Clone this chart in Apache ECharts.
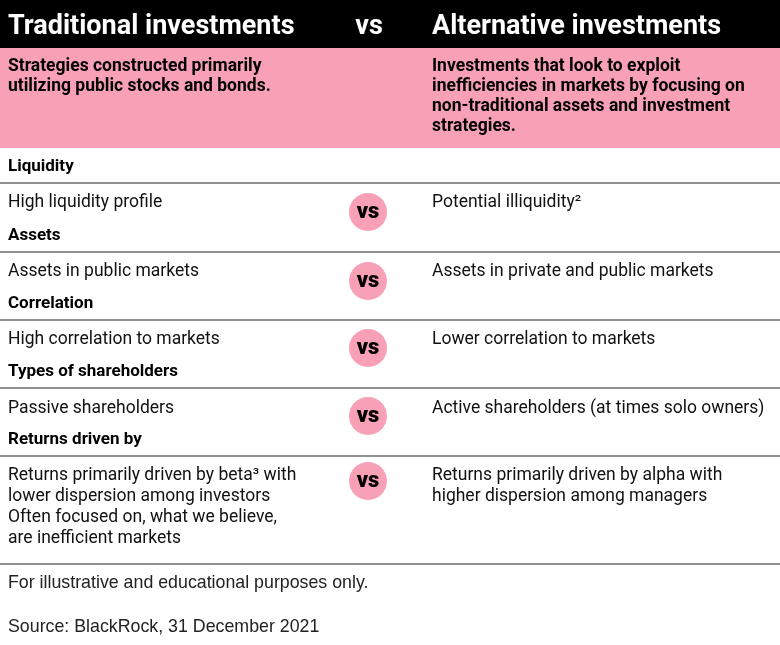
<!DOCTYPE html>
<html><head><meta charset="utf-8">
<script src="https://cdn.jsdelivr.net/npm/echarts@6/dist/echarts.min.js"></script>
<style>html,body{margin:0;padding:0;background:#fff}#chart{width:780px;height:645px}</style>
</head><body><div id="chart"></div>
<script>
var headers = ['Traditional investments', 'vs', 'Alternative investments'];
var descLeft = 'Strategies constructed primarily\nutilizing public stocks and bonds.';
var descRight = 'Investments that look to exploit\ninefficiencies in markets by focusing on\nnon-traditional assets and investment\nstrategies.';
var sections = ['Liquidity', 'Assets', 'Correlation', 'Types of shareholders', 'Returns driven by'];
var leftText = [
    'High liquidity profile',
    'Assets in public markets',
    'High correlation to markets',
    'Passive shareholders',
    'Returns primarily driven by beta³ with\nlower dispersion among investors\nOften focused on, what we believe,\nare inefficient markets'
];
var rightText = [
    'Potential illiquidity²',
    'Assets in private and public markets',
    'Lower correlation to markets',
    'Active shareholders (at times solo owners)',
    'Returns primarily driven by alpha with\nhigher dispersion among managers'
];
var notes = ['For illustrative and educational purposes only.', 'Source: BlackRock, 31 December 2021'];

var PINK = '#f8a0b5';
var FONT = 'Roboto, "Liberation Sans", sans-serif';
var chart = echarts.init(document.getElementById('chart'));

var g = [];
g.push({type: 'rect', shape: {x: 0, y: 0, width: 780, height: 48}, style: {fill: '#000'}});
g.push({type: 'text', x: 8, y: 27, style: {text: headers[0], fill: '#fff', font: 'bold 27px ' + FONT, textVerticalAlign: 'middle'}});
g.push({type: 'text', x: 369, y: 27, style: {text: headers[1], fill: '#fff', font: 'bold 27px ' + FONT, textAlign: 'center', textVerticalAlign: 'middle'}});
g.push({type: 'text', x: 432, y: 27, style: {text: headers[2], fill: '#fff', font: 'bold 27px ' + FONT, textVerticalAlign: 'middle'}});
g.push({type: 'rect', shape: {x: 0, y: 48, width: 780, height: 100}, style: {fill: PINK}});
g.push({type: 'text', x: 8, y: 57, style: {text: descLeft, fill: '#000', font: 'bold 17.5px ' + FONT, lineHeight: 20}});
g.push({type: 'text', x: 432, y: 57, style: {text: descRight, fill: '#000', font: 'bold 17.5px ' + FONT, lineHeight: 20}});

var secY = [167, 236, 304, 372, 440];
var rowY = [202, 271, 339, 408, 475];
var vsY = [212, 281, 348, 416, 481];
sections.forEach(function (s, i) {
    g.push({type: 'text', x: 8, y: secY[i], style: {text: s, fill: '#000', font: 'bold 17px ' + FONT, textVerticalAlign: 'middle'}});
    g.push({type: 'line', shape: {x1: 0, y1: secY[i] + 16, x2: 780, y2: secY[i] + 16}, style: {stroke: '#222', lineWidth: 1}});
    g.push({type: 'text', x: 8, y: rowY[i] - 10, style: {text: leftText[i], fill: '#111', font: '17.5px ' + FONT, lineHeight: 21}});
    g.push({type: 'text', x: 432, y: rowY[i] - 10, style: {text: rightText[i], fill: '#111', font: '17.5px ' + FONT, lineHeight: 21}});
    g.push({type: 'circle', shape: {cx: 368, cy: vsY[i], r: 19}, style: {fill: PINK}});
    g.push({type: 'text', x: 368, y: vsY[i], style: {text: 'vs', fill: '#000', font: '900 22px ' + FONT, textAlign: 'center', textVerticalAlign: 'middle'}});
});
g.push({type: 'line', shape: {x1: 0, y1: 564, x2: 780, y2: 564}, style: {stroke: '#222', lineWidth: 1}});
g.push({type: 'text', x: 8, y: 583, style: {text: notes[0], fill: '#222', font: '17.8px Arial, "Liberation Sans", sans-serif', textVerticalAlign: 'middle'}});
g.push({type: 'text', x: 8, y: 627, style: {text: notes[1], fill: '#222', font: '17.8px Arial, "Liberation Sans", sans-serif', textVerticalAlign: 'middle'}});

chart.setOption({animation: false, graphic: {elements: g}});
</script></body></html>
